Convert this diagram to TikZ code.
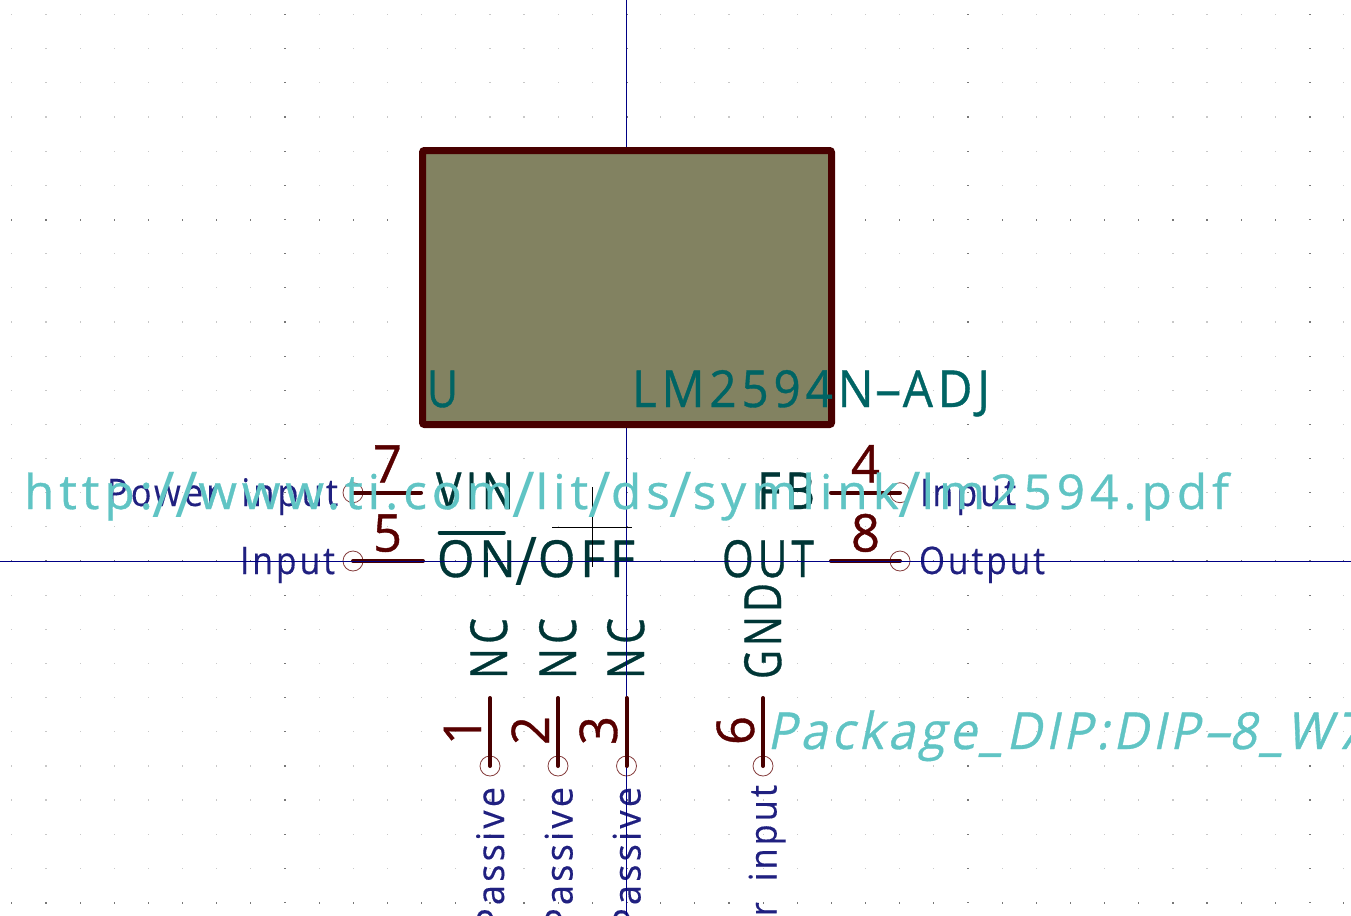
\documentclass[tikz,border=0pt]{standalone}
\usepackage{fontspec}
\setmainfont[LetterSpace=10,FakeBold=0.7]{Open Sans}
\newfontfamily\typefont[LetterSpace=9,FakeBold=0.3]{Open Sans}
\newfontfamily\slantfont[LetterSpace=8,FakeSlant=0.22,FakeBold=0.7]{Open Sans}
\newfontfamily\thinfont[LetterSpace=10]{Open Sans}
\definecolor{gridminor}{RGB}{200,200,200}
\definecolor{gridmajor}{RGB}{120,120,120}
\definecolor{bodyfill}{RGB}{130,130,97}
\definecolor{bodyline}{RGB}{72,0,0}
\definecolor{pinnum}{RGB}{88,0,0}
\definecolor{pinname}{RGB}{0,54,54}
\definecolor{pintype}{RGB}{32,32,128}
\definecolor{refcol}{RGB}{0,100,100}
\definecolor{fieldcol}{RGB}{96,196,196}
\definecolor{axiscol}{RGB}{0,0,132}
\definecolor{circol}{RGB}{132,60,60}
% #1 font size, #2 target width, #3 text
\newcommand{\fitt}[3]{\fontsize{#1}{#1}\selectfont\setbox0=\hbox{#3}\pgfmathsetmacro{\fitr}{#2/\the\wd0}\scalebox{\fitr}[1]{\box0}}
\newcommand{\slsh}{\raisebox{-.17em}{\scalebox{1.25}[1.32]{\thinfont /}}}
\newcommand{\dsh}{\scalebox{1.9}[1]{-}}
\tikzset{
  x=1pt,y=-1pt,
  lab/.style={inner sep=0pt,outer sep=0pt,anchor=base west},
  up/.style={lab,rotate=90},
  pinline/.style={draw=bodyline,line width=4pt,line cap=round},
  pinend/.style={circle,draw=circol,line width=0.8pt,minimum size=20pt,inner sep=0pt},
  nametxt/.style={text=pinname},
  numtxt/.style={text=pinnum},
  typetxt/.style={text=pintype,font=\typefont},
  reftxt/.style={text=refcol},
  fieldtxt/.style={text=fieldcol},
  axis/.style={draw=axiscol,line width=1pt},
  cursorline/.style={draw=black,line width=1pt},
}
\begin{document}
\begin{tikzpicture}
\useasboundingbox (0,0) rectangle (1351,915);
\clip (0,0) rectangle (1351,915);
% grid
\foreach \i in {-18,...,21}{
 \foreach \j in {-16,...,10}{
  \pgfmathsetmacro{\gx}{626.5+34.15*\i}
  \pgfmathsetmacro{\gy}{561+34.15*\j}
  \pgfmathtruncatemacro{\ci}{mod(abs(\i),10)==0}
  \pgfmathtruncatemacro{\cj}{mod(abs(\j),10)==0}
  \ifnum\ci=1
    \fill[gridmajor] (\gx-1,\gy-0.6) rectangle (\gx+1,\gy+0.6);
  \else\ifnum\cj=1
    \fill[gridmajor] (\gx-0.6,\gy-1) rectangle (\gx+0.6,\gy+1);
  \else
    \fill[gridminor] (\gx-0.6,\gy-0.6) rectangle (\gx+0.6,\gy+0.6);
  \fi\fi
 }}
% pin ends
\node[pinend] (c7) at (353,492.7) {};
\node[pinend] (c5) at (353,561) {};
\node[pinend] (c4) at (900,492.7) {};
\node[pinend] (c8) at (900,561) {};
\node[pinend] (c1) at (490,766) {};
\node[pinend] (c2) at (558,766) {};
\node[pinend] (c3) at (626.5,766) {};
\node[pinend] (c6) at (763,766) {};
\coordinate (e7) at (421,492.7);
\coordinate (e5) at (423,561);
\coordinate (e4) at (831,492.7);
\coordinate (e8) at (831,561);
\coordinate (e1) at (490,698);
\coordinate (e2) at (558,698);
\coordinate (e3) at (626.5,698);
\coordinate (e6) at (763,698);
\draw[pinline] (c7.center) -- (e7);
\draw[pinline] (c5.center) -- (e5);
\draw[pinline] (c4.center) -- (e4);
\draw[pinline] (c8.center) -- (e8);
\draw[pinline] (c1.center) -- (e1);
\draw[pinline] (c2.center) -- (e2);
\draw[pinline] (c6.center) -- (e6);
% pin numbers
\node[lab,numtxt] (n7) at (373,482.5) {\fitt{52}{29}{7}};
\node[lab,numtxt] (n5) at (373,551.5) {\fitt{52}{29}{5}};
\node[lab,numtxt] (n4) at (851,482.5) {\fitt{52}{29}{4}};
\node[lab,numtxt] (n8) at (851,551.5) {\fitt{52}{29}{8}};
\node[up,numtxt] (n1) at (481,745) {\fitt{52}{29}{1}};
\node[up,numtxt] (n2) at (549,745) {\fitt{52}{29}{2}};
\node[up,numtxt] (n3) at (617,745) {\fitt{52}{29}{3}};
\node[up,numtxt] (n6) at (754,745) {\fitt{52}{29}{6}};
% pin names
\node[lab,nametxt] (vin) at (436,509) {\fitt{51}{78}{VIN}};
\node[lab,nametxt] (onoff) at (437,577) {\fitt{51}{198}{ON\slsh OFF}};
\node[lab,nametxt] (fb) at (757,509) {\fitt{51}{58}{FB}};
\node[lab,nametxt] (outn) at (722,577) {\fitt{51}{92}{OUT}};
\node[up,nametxt] (nc1) at (507,679) {\fitt{51}{61}{NC}};
\node[up,nametxt] (nc2) at (576,679) {\fitt{51}{61}{NC}};
\node[up,nametxt] (nc3) at (644,679) {\fitt{51}{61}{NC}};
\node[up,nametxt] (gnd) at (781,679) {\fitt{51}{96}{GND}};
\coordinate (barl) at (439.5,532.7);
\coordinate (barr) at (504,532.7);
\draw[pinname,line width=3.6pt,line cap=round] (barl) -- (barr);
% pin types
\node[lab,typetxt] (t7) at (107,506) {\fitt{38}{231}{Power \kern10pt input}};
\node[lab,typetxt] (t5) at (240,574) {\fitt{38}{95}{Input}};
\node[lab,typetxt] (t4) at (920,506) {\fitt{38}{96}{Input}};
\node[lab,typetxt] (t8) at (919,574) {\fitt{38}{126}{Output}};
\node[up,typetxt] (t1) at (504,930) {\fitt{38}{143}{Passive}};
\node[up,typetxt] (t2) at (572.5,930) {\fitt{38}{143}{Passive}};
\node[up,typetxt] (t3) at (640.5,930) {\fitt{38}{143}{Passive}};
\node[up,typetxt] (t6) at (776.5,1015) {\fitt{38}{230}{Power \kern10pt input}};
% axes
\coordinate (ax1) at (0,561);
\coordinate (ax2) at (1351,561);
\coordinate (ay1) at (626.5,0);
\coordinate (ay2) at (626.5,915);
\draw[axis] (ax1) -- (ax2);
\draw[axis] (ay1) -- (ay2);
\draw[pinline] (c3.center) -- (e3);
% body
\node[draw=bodyline,fill=bodyfill,line width=7pt,rounded corners=2pt,minimum width=409pt,minimum height=274pt,inner sep=0pt,anchor=north west] (body) at (419,147) {};
% cursor
\coordinate (cu1) at (592.5,487);
\coordinate (cu2) at (592.5,567);
\coordinate (cu3) at (552,527);
\coordinate (cu4) at (632,527);
\draw[cursorline] (cu1) -- (cu2);
\draw[cursorline] (cu3) -- (cu4);
% fields
\node[lab,reftxt] (refu) at (427,407) {\fitt{51}{31}{U}};
\node[lab,reftxt] (val) at (632,407) {\fitt{51}{358}{LM2594N\dsh ADJ}};
\node[lab,fieldtxt] (url) at (24,509) {\fitt{48}{1205}{http:\slsh\slsh www.ti.com\slsh lit\slsh ds\slsh symlink\slsh lm2594.pdf}};
\node[lab,fieldtxt] (fp) at (767,749) {\slantfont\fitt{51}{596}{Package\_DIP:DIP\dsh 8\_W7}};
\end{tikzpicture}
\end{document}
